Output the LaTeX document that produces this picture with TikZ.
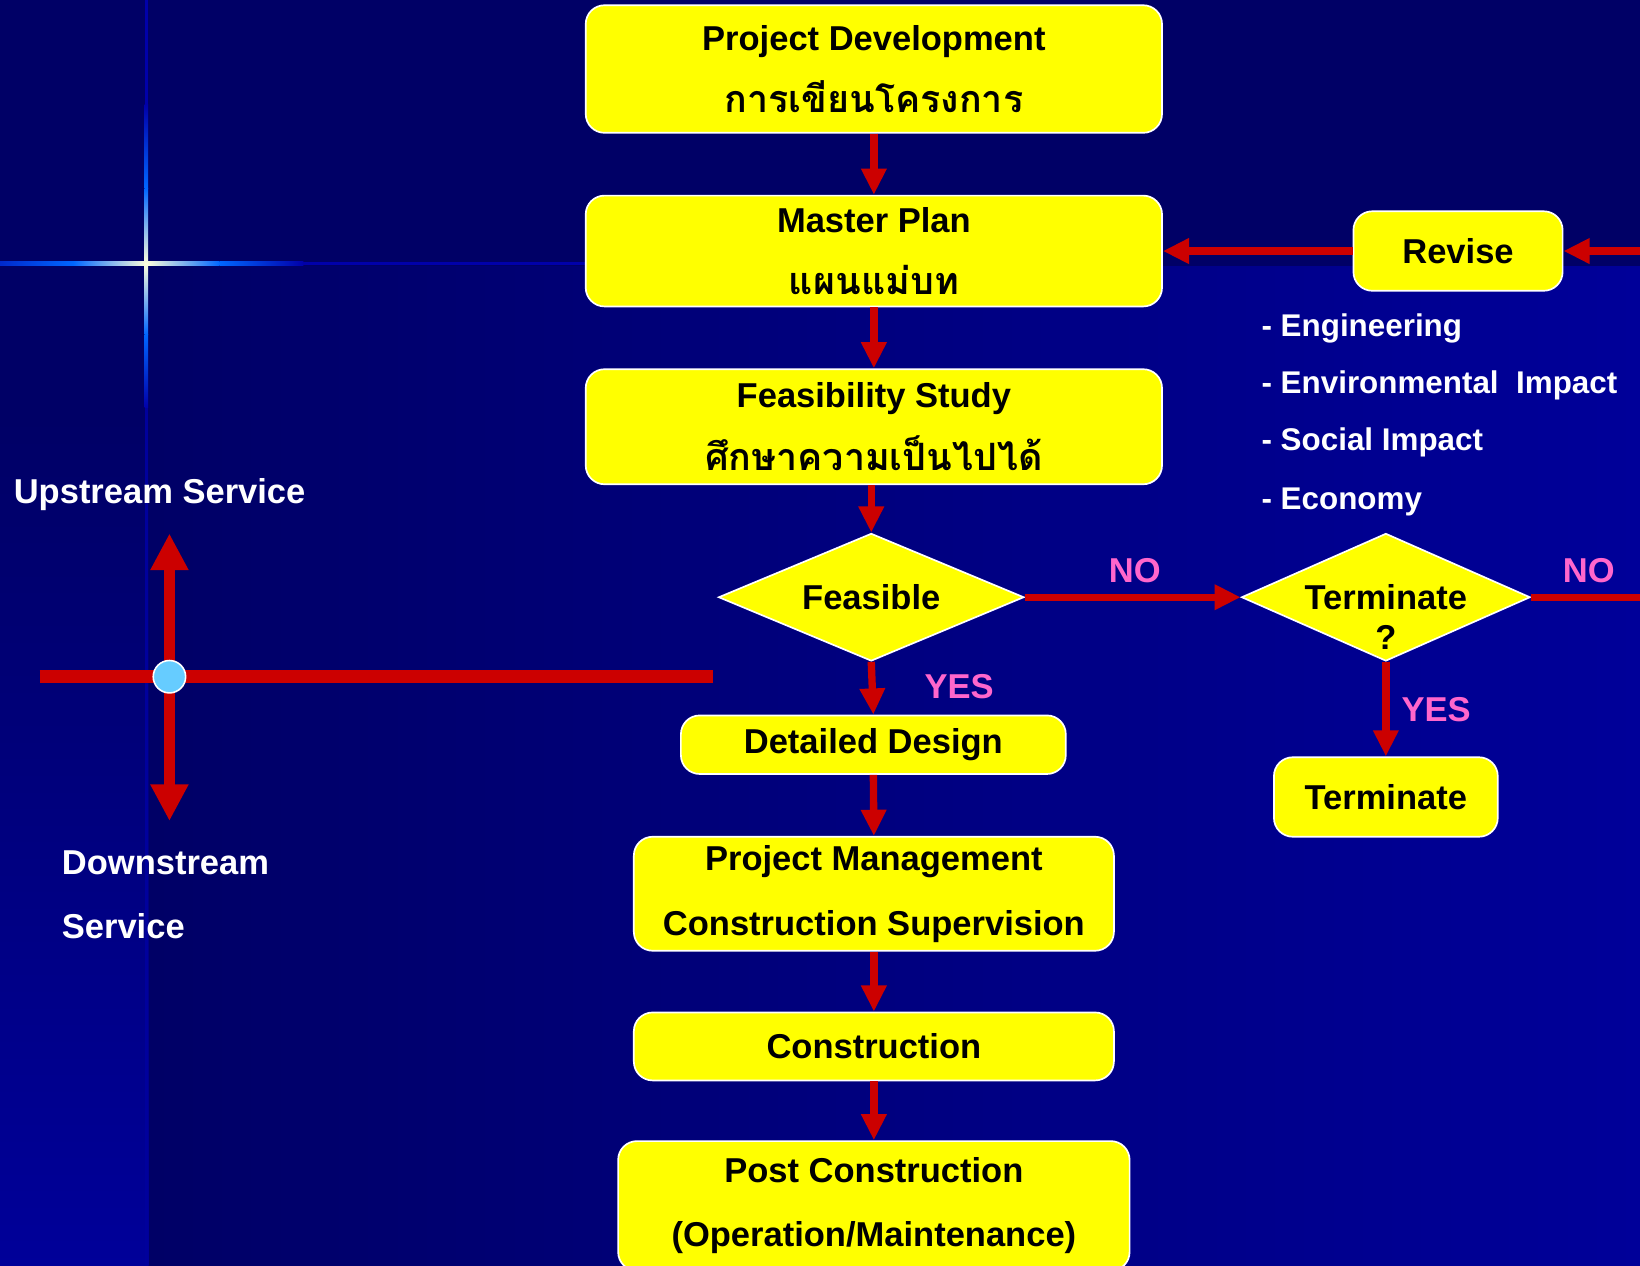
\documentclass[tikz,border=0pt]{standalone}
\usepackage{fontspec}
\setmainfont{Liberation Sans}
\newfontfamily\thai[Script=Thai]{Loma}
\usetikzlibrary{arrows.meta,shapes.geometric}
\definecolor{bgdark}{HTML}{000066}
\definecolor{bglight}{HTML}{000099}
\definecolor{starblue}{HTML}{0066FF}
\definecolor{stardark}{HTML}{0000AA}
\definecolor{starwhite}{HTML}{FFFFDD}
\definecolor{arrred}{HTML}{CC0000}
\definecolor{lblpink}{HTML}{FF66CC}
\definecolor{circblue}{HTML}{66CCFF}
\definecolor{boxyellow}{HTML}{FFFF00}
\tikzset{
  box/.style={draw=white, line width=1.6pt, fill=boxyellow, rounded corners=18pt,
    inner sep=0pt, text=black, align=center, font=\fontsize{33}{60}\selectfont\bfseries},
  dia/.style={diamond, aspect=2.4, draw=white, line width=1.6pt, fill=boxyellow, inner sep=0pt,
    text=black, font=\fontsize{33}{38}\selectfont\bfseries},
  arr/.style={draw=arrred, line width=7pt, -{Triangle[width=23pt,length=25pt]}},
  plain/.style={draw=arrred, line width=7pt},
  wtxt/.style={text=white, font=\fontsize{33}{40}\selectfont\bfseries, inner sep=0pt, anchor=base west},
  ltxt/.style={text=white, font=\fontsize{30}{36}\selectfont\bfseries, inner sep=0pt, anchor=base west},
  ptxt/.style={text=lblpink, font=\fontsize{33}{40}\selectfont\bfseries, inner sep=0pt}
}
\newcommand{\thaiT}[1]{{\thai\bfseries\fontsize{36}{60}\selectfont #1}}
\begin{document}
\begin{tikzpicture}[x=1pt,y=-1pt]
\useasboundingbox (0,0) rectangle (1568,1210);
% background
\fill[bgdark] (0,0) rectangle (1568,1210);
\shade[left color=bgdark, right color=bglight] (142,255) rectangle (1568,1210);
\shade[top color=bgdark, bottom color=bglight] (0,400) rectangle (142,1210);
% star lines
\shade[left color=stardark!60!starblue, right color=starblue] (0,250.3) rectangle (70,253.7);
\shade[left color=starblue, right color=starwhite] (70,250.3) rectangle (140,253.7);
\shade[left color=starwhite, right color=starblue] (140,250.3) rectangle (210,253.7);
\shade[left color=starblue, right color=stardark] (210,250.3) rectangle (290,253.7);
\fill[stardark] (290,250.3) rectangle (560,253.7);
\fill[stardark] (138.3,0) rectangle (141.7,100);
\shade[top color=stardark, bottom color=starblue] (138.3,100) rectangle (141.7,180);
\shade[top color=starblue, bottom color=starwhite] (138.3,180) rectangle (141.7,252);
\shade[top color=starwhite, bottom color=starblue] (138.3,252) rectangle (141.7,320);
\shade[top color=starblue, bottom color=stardark] (138.3,320) rectangle (141.7,390);
\fill[stardark!80!bgdark] (138.3,390) rectangle (141.7,1210);

% boxes
\node[box, minimum width=551pt, minimum height=122pt] (pd) at (835.5,66)
  {Project Development\\\thaiT{การเขียนโครงการ}};
\node[box, minimum width=551pt, minimum height=106pt] (mp) at (835.5,240)
  {Master Plan\\\thaiT{แผนแม่บท}};
\node[box, minimum width=551pt, minimum height=110pt] (fs) at (835.5,408)
  {Feasibility Study\\\thaiT{ศึกษาความเป็นไปได้}};
\node[dia, minimum width=292pt, minimum height=122pt] (feas) at (833,571) {Feasible};
\node[box, minimum width=368pt, minimum height=56pt] (dd) at (835,712) {Detailed Design};
\node[box, minimum width=459pt, minimum height=109pt, font=\fontsize{33}{62}\selectfont\bfseries] (pm) at (835.5,854.5)
  {Project Management\\Construction Supervision};
\node[box, minimum width=459pt, minimum height=65pt] (cons) at (835.5,1000.5) {Construction};
\node[box, minimum width=489pt, minimum height=124pt, font=\fontsize{33}{61}\selectfont\bfseries] (post) at (835.5,1153)
  {Post Construction\\(Operation/Maintenance)};
\node[box, minimum width=200pt, minimum height=76pt] (rev) at (1394,240) {Revise};
\node[dia, minimum width=276pt, minimum height=122pt] (tq) at (1325,571) {};
\node[text=black, font=\fontsize{33}{38}\selectfont\bfseries, align=center, inner sep=0pt] (tqt) at (1325,590) {Terminate\\?};
\node[box, minimum width=214pt, minimum height=76pt] (term) at (1325,762) {Terminate};

% connectors
\coordinate (rin) at (1568,240);
\coordinate (rout) at (1568,571);
\draw[arr] (pd.south) -- (mp.north);
\draw[arr] (mp.south) -- (fs.north);
\draw[arr] (fs.south -| feas.north) -- (feas.north);
\draw[arr] (feas.south) -- (dd.north);
\draw[arr] (dd.south) -- (pm.north);
\draw[arr] (pm.south) -- (cons.north);
\draw[arr] (cons.south) -- (post.north);
\draw[arr] (feas.east) -- (tq.west);
\draw[plain] (tq.east) -- (rout);
\draw[arr] (tq.south) -- (term.north);
\draw[arr] (rin) -- (rev.east);
\draw[arr] (rev.west) -- (mp.east);

% labels
\node[ptxt] (no1) at (1085,546) {NO};
\node[ptxt] (no2) at (1519,546) {NO};
\node[ptxt] (yes1) at (917,656) {YES};
\node[ptxt] (yes2) at (1373,678) {YES};

% right list
\node[ltxt] (l1) at (1206,322) {- Engineering};
\node[ltxt] (l2) at (1206,376) {- Environmental\ \ Impact};
\node[ltxt] (l3) at (1206,431) {- Social Impact};
\node[ltxt] (l4) at (1206,487) {- Economy};

% left cross
\coordinate (hl) at (38,647);
\coordinate (hr) at (682,647);
\coordinate (vt) at (162,510);
\coordinate (vb) at (162,785);
\draw[draw=arrred, line width=12pt] (hl) -- (hr);
\draw[draw=arrred, line width=11pt, {Triangle[width=34pt,length=35pt]}-{Triangle[width=34pt,length=35pt]}] (vt) -- (vb);
\node[circle, fill=circblue, draw=white, line width=1.5pt, minimum size=31pt, inner sep=0pt] (dot) at (162,647) {};

\node[wtxt] (up) at (13,481) {Upstream Service};
\node[wtxt] (down1) at (59,836) {Downstream};
\node[wtxt] (down2) at (59,897) {Service};
\end{tikzpicture}
\end{document}
